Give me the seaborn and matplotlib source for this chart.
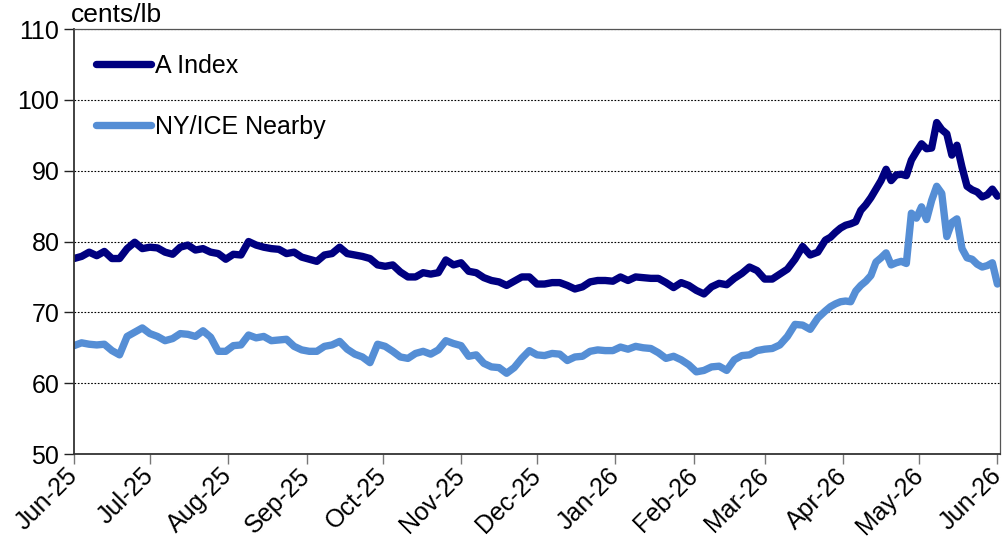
"""
Cotton prices: A Index vs NY/ICE nearby futures, Jun-25 to Jun-26.
Values read off the reference chart (cents/lb).
"""

import pandas as pd
import matplotlib
matplotlib.use("Agg")
import matplotlib.pyplot as plt
import matplotlib.dates as mdates
import seaborn as sns

# =========================================================
# Data
# =========================================================
# every 3 days up to late March, then every 2 days through the spring rally
DATES = pd.date_range("2025-06-01", "2026-03-25", freq="3D").append(
    pd.date_range("2026-03-27", "2026-06-01", freq="2D")
)

A_INDEX = [
    # Jun-25
    77.6, 77.9, 78.5, 78.0, 78.6, 77.6, 77.6, 79.0, 79.9, 79.0,
    # Jul-25
    79.2, 79.1, 78.5, 78.2, 79.2, 79.5, 78.8, 79.0, 78.5, 78.3, 77.5,
    # Aug-25
    78.2, 78.1, 80.0, 79.5, 79.2, 79.0, 78.9, 78.3, 78.5, 77.8,
    # Sep-25
    77.5, 77.2, 78.1, 78.3, 79.2, 78.3, 78.1, 77.9, 77.6, 76.7,
    # Oct-25
    76.5, 76.7, 75.7, 75.0, 75.0, 75.6, 75.4, 75.6, 77.4, 76.7,
    # Nov-25
    77.0, 75.8, 75.6, 74.9, 74.5, 74.3, 73.8, 74.4, 75.0, 75.0,
    # Dec-25
    74.0, 74.0, 74.2, 74.2, 73.8, 73.3, 73.6, 74.3, 74.5, 74.5, 74.4,
    # Jan-26
    75.0, 74.5, 75.0, 74.9, 74.8, 74.8, 74.2, 73.5, 74.2, 73.8,
    # Feb-26
    73.1, 72.6, 73.6, 74.1, 73.9, 74.8, 75.5, 76.4, 75.9,
    # Mar-26
    74.7, 74.7, 75.4, 76.1, 77.5, 79.3, 78.1, 78.5, 80.2,
    # late Mar-26 onwards (2-day steps)
    80.6, 81.3, 81.9, 82.3, 82.5, 82.8, 84.4, 85.2, 86.2, 87.4,
    88.6, 90.2, 88.6, 89.4, 89.5, 89.3, 91.5, 92.7, 93.8, 93.1,
    93.2, 96.8, 95.8, 95.2, 92.2, 93.6, 90.5, 87.8, 87.3, 87.0,
    86.3, 86.6, 87.4, 86.4,
]

NY_NEARBY = [
    # Jun-25
    65.3, 65.7, 65.5, 65.4, 65.5, 64.6, 64.0, 66.6, 67.2, 67.8,
    # Jul-25
    67.0, 66.6, 66.0, 66.3, 67.0, 66.9, 66.6, 67.4, 66.5, 64.5, 64.5,
    # Aug-25
    65.3, 65.4, 66.8, 66.4, 66.6, 66.0, 66.1, 66.2, 65.2, 64.7,
    # Sep-25
    64.5, 64.5, 65.2, 65.4, 65.9, 64.8, 64.1, 63.7, 62.9, 65.5,
    # Oct-25
    65.2, 64.5, 63.7, 63.5, 64.2, 64.5, 64.1, 64.7, 66.0, 65.6,
    # Nov-25
    65.3, 63.8, 64.0, 62.8, 62.3, 62.2, 61.4, 62.2, 63.5, 64.6,
    # Dec-25
    64.0, 63.9, 64.2, 64.1, 63.2, 63.7, 63.8, 64.5, 64.7, 64.6, 64.6,
    # Jan-26
    65.1, 64.8, 65.2, 65.0, 64.9, 64.3, 63.5, 63.8, 63.3, 62.6,
    # Feb-26
    61.6, 61.8, 62.3, 62.4, 61.8, 63.3, 63.9, 64.0, 64.6,
    # Mar-26
    64.8, 64.9, 65.4, 66.6, 68.3, 68.2, 67.6, 69.2, 70.2,
    # late Mar-26 onwards (2-day steps)
    70.8, 71.2, 71.5, 71.6, 71.5, 73.0, 73.8, 74.4, 75.2, 77.1,
    77.7, 78.4, 76.7, 77.0, 77.2, 76.9, 84.0, 83.3, 84.9, 83.1,
    85.8, 87.8, 86.8, 80.7, 82.7, 83.2, 79.0, 77.7, 77.5, 76.8,
    76.4, 76.6, 77.0, 74.0,
]

SERIES = ["A Index", "NY/ICE Nearby"]
COLORS = {"A Index": "#000080", "NY/ICE Nearby": "#558ED5"}
Y_TICKS = [50, 60, 70, 80, 90, 100, 110]
UNIT_LABEL = "cents/lb"


def build_frame():
    df = pd.DataFrame({"date": DATES, SERIES[0]: A_INDEX, SERIES[1]: NY_NEARBY})
    return df.melt(id_vars="date", var_name="series", value_name="price")


def main():
    sns.set_theme(style="white")
    plt.rcParams["font.family"] = ["Liberation Sans", "DejaVu Sans"]

    fig, ax = plt.subplots(figsize=(10.08, 5.48), dpi=100)
    fig.subplots_adjust(left=0.0734, right=0.992, top=0.947, bottom=0.1715)

    df = build_frame()
    sns.lineplot(data=df, x="date", y="price", hue="series", hue_order=SERIES,
                 palette=COLORS, linewidth=5.3, ax=ax)
    for line in ax.lines:
        line.set_solid_capstyle("round")
        line.set_solid_joinstyle("round")

    # axes
    ax.set_xlim(pd.Timestamp("2025-06-01"), pd.Timestamp("2026-06-02"))
    ax.set_ylim(Y_TICKS[0], Y_TICKS[-1])
    ax.set_yticks(Y_TICKS)
    ax.xaxis.set_major_locator(mdates.MonthLocator())
    ax.xaxis.set_major_formatter(mdates.DateFormatter("%b-%y"))
    ax.set_xlabel("")
    ax.set_ylabel("")

    ax.yaxis.grid(True, color="black", linestyle=(0, (1.5, 1.5)), linewidth=0.8)
    ax.xaxis.grid(False)

    for side in ["left", "bottom"]:
        ax.spines[side].set_color("#333333")
        ax.spines[side].set_linewidth(1.3)
    for side in ["top", "right"]:
        ax.spines[side].set_color("#555555")
        ax.spines[side].set_linewidth(0.9)

    ax.tick_params(axis="both", which="major", labelsize=18, colors="#222222",
                   labelcolor="black", length=7, width=1.0, direction="out",
                   left=True, bottom=True)
    ax.tick_params(axis="x", colors="#777777", labelcolor="black", pad=6)
    for lbl in ax.get_xticklabels():
        lbl.set_rotation(45)
        lbl.set_ha("right")
        lbl.set_va("center")
        lbl.set_rotation_mode("anchor")

    ax.text(-0.003, 1.005, UNIT_LABEL, transform=ax.transAxes, ha="left",
            va="bottom", fontsize=19, color="black")

    handles, labels = ax.get_legend_handles_labels()
    leg = ax.legend(handles, labels, loc="upper left",
                    bbox_to_anchor=(0.024, 0.942), borderaxespad=0,
                    borderpad=0, frameon=False, fontsize=18,
                    handlelength=2.2, handletextpad=0.15, labelspacing=1.5)
    for h in leg.get_lines():
        h.set_linewidth(5.3)
        h.set_solid_capstyle("round")
    for t in leg.get_texts():
        t.set_color("black")

    fig.savefig("out.png", dpi=100)
    plt.close(fig)


if __name__ == "__main__":
    main()
